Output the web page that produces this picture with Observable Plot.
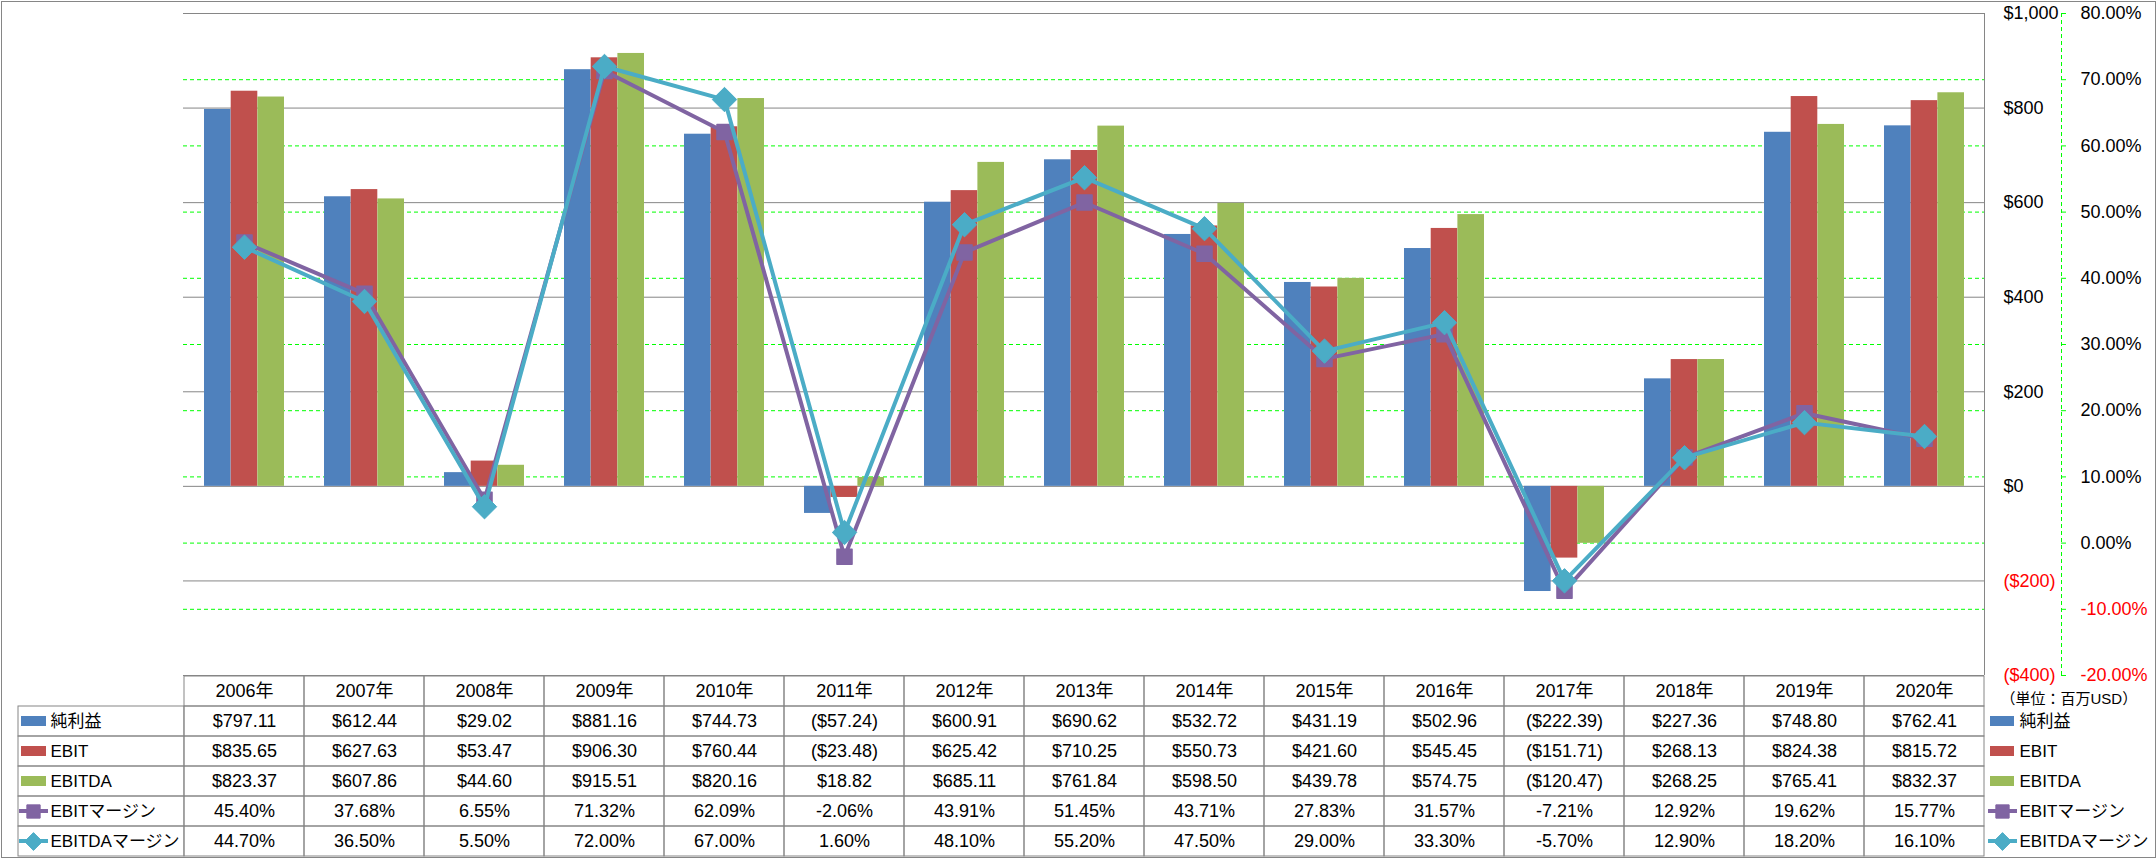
<!DOCTYPE html>
<html><head><meta charset="utf-8">
<script src="https://cdn.jsdelivr.net/npm/d3@7"></script>
<script src="https://cdn.jsdelivr.net/npm/@observablehq/plot@0.6"></script>
<style>
html,body{margin:0;padding:0;background:#fff;}
#wrap{position:relative;width:2156px;height:858px;overflow:hidden;background:#fff;}
#frame{position:absolute;left:1px;top:1px;width:2155px;height:857px;border:1px solid #868686;box-sizing:border-box;}
#chart,#table{position:absolute;left:0;}
#chart{top:0;}
#table{top:675px;}
</style></head><body>
<div id="wrap"><div id="frame"></div><div id="table"></div><div id="chart"></div></div>
<script>
// ---- data ----
const years = ["2006年","2007年","2008年","2009年","2010年","2011年","2012年","2013年","2014年","2015年","2016年","2017年","2018年","2019年","2020年"];
const netIncome = [797.11, 612.44, 29.02, 881.16, 744.73, -57.24, 600.91, 690.62, 532.72, 431.19, 502.96, -222.39, 227.36, 748.80, 762.41];
const ebit = [835.65, 627.63, 53.47, 906.30, 760.44, -23.48, 625.42, 710.25, 550.73, 421.60, 545.45, -151.71, 268.13, 824.38, 815.72];
const ebitda = [823.37, 607.86, 44.60, 915.51, 820.16, 18.82, 685.11, 761.84, 598.50, 439.78, 574.75, -120.47, 268.25, 765.41, 832.37];
const ebitMargin = [45.40, 37.68, 6.55, 71.32, 62.09, -2.06, 43.91, 51.45, 43.71, 27.83, 31.57, -7.21, 12.92, 19.62, 15.77];
const ebitdaMargin = [44.70, 36.50, 5.50, 72.00, 67.00, 1.60, 48.10, 55.20, 47.50, 29.00, 33.30, -5.70, 12.90, 18.20, 16.10];
const seriesNames = ["純利益", "EBIT", "EBITDA", "EBITマージン", "EBITDAマージン"];
const dollarTicks = [-400, -200, 0, 200, 400, 600, 800, 1000];
const pctTicks = [-20, -10, 0, 10, 20, 30, 40, 50, 60, 70, 80];
const unitLabel = "（単位：百万USD）";

// ---- styling ----
const colors = {"純利益": "#4F81BD", "EBIT": "#C0504D", "EBITDA": "#9BBB59", "EBITマージン": "#8064A2", "EBITDAマージン": "#4BACC6"};
const FONT = '"Liberation Sans", Arial, "Noto Sans CJK JP", sans-serif';
const GRID = "#868686";
const GREEN = "#00ff00";

const toD = d3.scaleLinear([-20, 80], [-400, 1000]);
const toP = toD.invert;
const fmtD = v => v < 0 ? `($${Math.abs(v).toLocaleString("en-US")})` : `$${v.toLocaleString("en-US")}`;
const fmtD2 = v => v < 0 ? `($${Math.abs(v).toFixed(2)})` : `$${v.toFixed(2)}`;
const fmtP = v => `${v.toFixed(2)}%`;

const rows = years.map((year, i) => ({
  year, net: netIncome[i], ebit: ebit[i], ebitda: ebitda[i], em: ebitMargin[i], edm: ebitdaMargin[i]
}));

const chart = Plot.plot({
  width: 2156, height: 690,
  marginTop: 13, marginBottom: 15, marginLeft: 183, marginRight: 172,
  style: {background: "transparent", overflow: "visible", fontFamily: FONT, fontSize: "18px", color: "#000"},
  x: {type: "band", domain: years, padding: 0, axis: null},
  y: {domain: [-400, 1000], label: null},
  marks: [
    Plot.ruleY(pctTicks.filter(p => p > -20 && p < 80), {y: p => toD(p), stroke: GREEN, strokeDasharray: "4,3"}),
    Plot.ruleY(dollarTicks, {stroke: GRID}),
    Plot.barY(rows, {x: "year", y: "net", fill: colors["純利益"], insetLeft: 20, insetRight: 73.4}),
    Plot.barY(rows, {x: "year", y: "ebit", fill: colors["EBIT"], insetLeft: 46.7, insetRight: 46.7}),
    Plot.barY(rows, {x: "year", y: "ebitda", fill: colors["EBITDA"], insetLeft: 73.4, insetRight: 20}),
    Plot.ruleX([years[years.length - 1]], {dx: 60, stroke: GRID}),
    Plot.ruleX([years[years.length - 1]], {dx: 137, stroke: GREEN, strokeDasharray: "4,3"}),
    Plot.ruleY(pctTicks, {y: p => toD(p), insetLeft: 1878, insetRight: -82, stroke: GREEN}),
    Plot.axisY(dollarTicks.filter(v => v >= 0), {anchor: "right", tickSize: 0, tickPadding: 19, tickFormat: fmtD, fontSize: 18, label: null}),
    Plot.axisY(dollarTicks.filter(v => v < 0), {anchor: "right", tickSize: 0, tickPadding: 19, tickFormat: fmtD, fontSize: 18, fill: "#ff0000", label: null}),
    Plot.axisY(pctTicks.filter(p => p >= 0).map(toD), {anchor: "right", tickSize: 0, tickPadding: 96, tickFormat: d => fmtP(toP(d)), fontSize: 18, label: null}),
    Plot.axisY(pctTicks.filter(p => p < 0).map(toD), {anchor: "right", tickSize: 0, tickPadding: 96, tickFormat: d => fmtP(toP(d)), fontSize: 18, fill: "#ff0000", label: null}),
    Plot.line(rows, {x: "year", y: d => toD(d.em), stroke: colors["EBITマージン"], strokeWidth: 4, strokeLinejoin: "round"}),
    Plot.dot(rows, {x: "year", y: d => toD(d.em), symbol: "square", r: 8.5, fill: colors["EBITマージン"], stroke: colors["EBITマージン"], strokeWidth: 1.5, strokeLinejoin: "round"}),
    Plot.line(rows, {x: "year", y: d => toD(d.edm), stroke: colors["EBITDAマージン"], strokeWidth: 4, strokeLinejoin: "round"}),
    Plot.dot(rows, {x: "year", y: d => toD(d.edm), symbol: "diamond2", r: 11, fill: colors["EBITDAマージン"], stroke: colors["EBITDAマージン"], strokeWidth: 1, strokeLinejoin: "round"})
  ]
});
document.getElementById("chart").appendChild(chart);

// ---- data table ----
const HDR = "_hdr";
const seriesValues = [netIncome, ebit, ebitda, ebitMargin, ebitdaMargin];
const grid = [];
const cellText = [];
years.forEach((yr, i) => {
  grid.push({x: yr, y: HDR});
  seriesNames.forEach((s, k) => {
    grid.push({x: yr, y: s});
    const v = seriesValues[k][i];
    cellText.push({x: yr, y: s, t: k < 3 ? fmtD2(v) : fmtP(v)});
  });
});

function legendItem(name, kind, anchorYear, o) {
  const c = colors[name];
  const m = [];
  if (kind === "bar") {
    m.push(Plot.cell([name], {x: () => anchorYear, y: d => d, fill: c, insetLeft: o.swL, insetRight: o.swR, insetTop: 10, insetBottom: 10}));
  } else {
    m.push(Plot.cell([name], {x: () => anchorYear, y: d => d, fill: c, insetLeft: o.lnL, insetRight: o.lnR, insetTop: 13, insetBottom: 13}));
    m.push(Plot.dot([name], {x: () => anchorYear, y: d => d, dx: o.mk, symbol: kind, r: kind === "square" ? 7.5 : 8, fill: c, stroke: c, strokeWidth: 1, strokeLinejoin: "round"}));
  }
  m.push(Plot.text([name], {x: () => anchorYear, y: d => d, text: d => d, dx: o.tx, textAnchor: "start", fontSize: 17}));
  return m;
}
const kinds = ["bar", "bar", "bar", "square", "diamond2"];
const leftOpts = {swL: -163, swR: 258, lnL: -165, lnR: 256, mk: -211, tx: -194};
const rightOpts = {swL: 126, swR: -30, lnL: 124, lnR: -33, mk: 78, tx: 95};

const table = Plot.plot({
  width: 2156, height: 183,
  marginTop: 0, marginBottom: 2, marginLeft: 183, marginRight: 172,
  style: {background: "transparent", overflow: "visible", fontFamily: FONT, fontSize: "18px", color: "#000"},
  x: {type: "band", domain: years, padding: 0, axis: null},
  y: {type: "band", domain: [HDR, ...seriesNames], padding: 0, axis: null},
  marks: [
    Plot.cell(grid, {x: "x", y: "y", fill: "none", stroke: GRID}),
    Plot.cell(seriesNames, {x: () => years[0], y: d => d, insetLeft: -166, insetRight: 120.07, fill: "none", stroke: GRID}),
    Plot.text(years, {x: d => d, y: () => HDR, text: d => d, fontSize: 18}),
    Plot.text(cellText, {x: "x", y: "y", text: "t", fontSize: 18}),
    ...seriesNames.flatMap((s, k) => legendItem(s, kinds[k], years[0], leftOpts)),
    ...seriesNames.flatMap((s, k) => legendItem(s, kinds[k], years[years.length - 1], rightOpts)),
    Plot.text([unitLabel], {x: () => years[years.length - 1], y: () => HDR, text: d => d, dx: 76, dy: 8, textAnchor: "start", fontSize: 15})
  ]
});
document.getElementById("table").appendChild(table);
</script>
</body></html>
